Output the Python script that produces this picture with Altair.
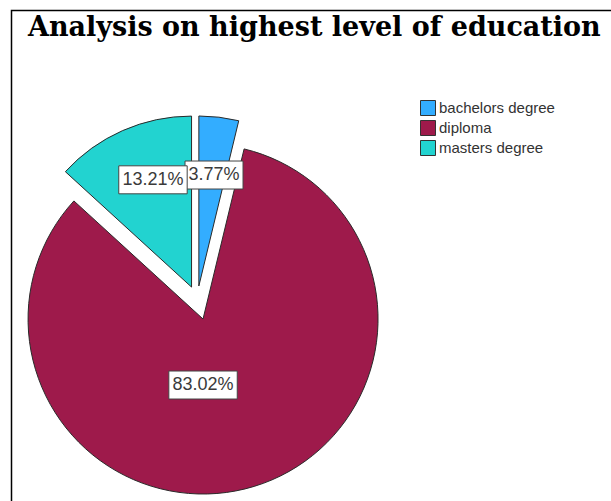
import altair as alt
import pandas as pd

# ---- data ----
categories = ["bachelors degree", "diploma", "masters degree"]
percents = [3.77, 83.02, 13.21]
labels = ["3.77%", "83.02%", "13.21%"]
title_text = "Analysis on highest level of education"

# ---- style ----
colors = ["#33ADFF", "#9E1A4B", "#22D3D0"]
explode = [14, 20, 14]          # px, radial offset of each slice
radii = [170, 175, 171]         # px
label_r = [112, 66, 114]        # px from slice centre
label_shift = [1, 17, 4]        # degrees
CX, CY = 197.2, 299.9           # pie centre (px)

df = pd.DataFrame({
    "category": categories,
    "pct": percents,
    "label": labels,
    "order": list(range(len(categories))),
    "explode": explode,
    "r": radii,
    "lr": label_r,
    "ls": label_shift,
})

base = (
    alt.Chart(df)
    .transform_window(cum="sum(pct)", sort=[alt.SortField("order")], frame=[None, 0])
    .transform_calculate(
        end="datum.cum / 100 * 2 * PI",
        start="(datum.cum - datum.pct) / 100 * 2 * PI",
    )
    .transform_calculate(mid="(datum.start + datum.end) / 2")
    .transform_calculate(
        cx=f"{CX} + datum.explode * sin(datum.mid)",
        cy=f"{CY} - datum.explode * cos(datum.mid)",
        la="datum.mid + datum.ls * PI / 180",
    )
    .transform_calculate(
        lx="datum.cx + datum.lr * sin(datum.la)",
        ly="datum.cy - datum.lr * cos(datum.la)",
        bw="length(datum.label) * 10.4 + 6",
    )
    .transform_calculate(
        bx1="datum.lx - datum.bw / 2",
        bx2="datum.lx + datum.bw / 2",
        by1="datum.ly - 14",
        by2="datum.ly + 14",
    )
)

arcs = base.mark_arc(stroke="#2a2a2a", strokeWidth=1).encode(
    x=alt.X("cx:Q", scale=None, axis=None),
    y=alt.Y("cy:Q", scale=None, axis=None),
    theta=alt.Theta("start:Q", scale=None, stack=None),
    theta2=alt.Theta2("end:Q"),
    radius=alt.Radius("r:Q", scale=None),
    color=alt.Color(
        "category:N",
        scale=alt.Scale(domain=categories, range=colors),
        legend=alt.Legend(
            title=None,
            orient="none",
            legendX=420,
            legendY=100,
            symbolType="square",
            symbolSize=225,
            symbolStrokeColor="#333333",
            symbolStrokeWidth=1,
            labelFont="Liberation Sans",
            labelFontSize=15,
            labelColor="#333333",
            labelOffset=3,
            rowPadding=0,
            padding=0,
        ),
    ),
)

boxes = base.mark_rect(fill="white", stroke="#444444", strokeWidth=1).encode(
    x=alt.X("bx1:Q", scale=None, axis=None),
    x2="bx2:Q",
    y=alt.Y("by1:Q", scale=None, axis=None),
    y2="by2:Q",
)

texts = base.mark_text(
    font="Liberation Sans", fontSize=18, color="#3a3a3a", align="center", baseline="middle"
).encode(
    x=alt.X("lx:Q", scale=None, axis=None),
    y=alt.Y("ly:Q", scale=None, axis=None),
    text="label:N",
)

one = pd.DataFrame({"t": [title_text]})

border = alt.Chart(one).mark_rect(filled=False, stroke="black", strokeWidth=1.5).encode(
    x=alt.value(11.5), x2=alt.value(720), y=alt.value(10.5), y2=alt.value(720)
)

title = alt.Chart(one).mark_text(
    font="DejaVu Serif", fontSize=27, fontWeight="bold", color="black",
    align="left", baseline="alphabetic",
).encode(x=alt.value(28), y=alt.value(36), text="t:N")

chart = (
    alt.layer(border, arcs, boxes, texts, title)
    .properties(width=611, height=501, padding=0, autosize="none", background="white")
    .configure_view(stroke=None)
)

chart.save("out.html", embed_options={"renderer": "svg", "actions": False})
